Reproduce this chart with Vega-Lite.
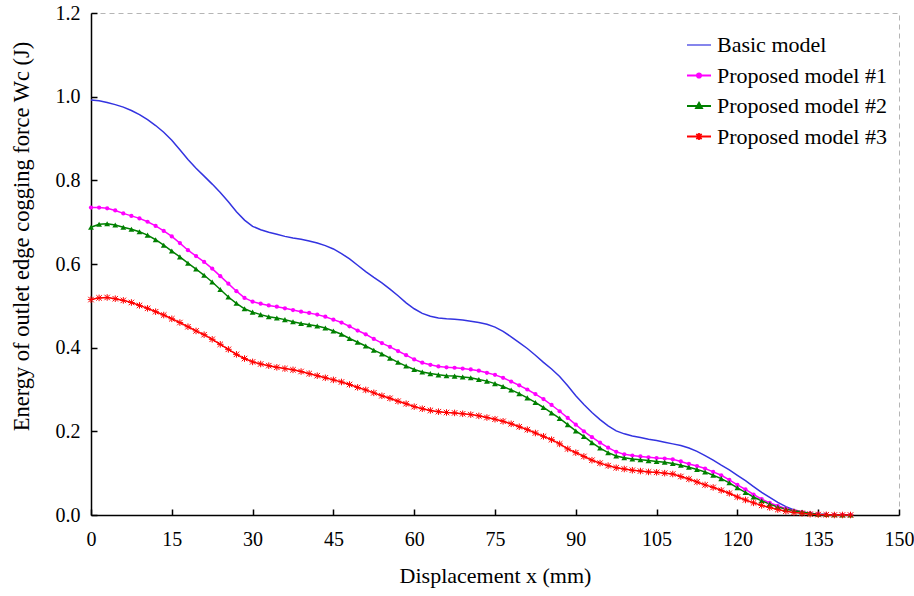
{
  "$schema": "https://vega.github.io/schema/vega-lite/v6.json",
  "width": 808,
  "height": 502,
  "autosize": {"type": "none"},
  "padding": {"left": 91, "top": 13, "right": 15, "bottom": 81},
  "background": "white",
  "config": {
    "font": "Liberation Serif",
    "view": {"stroke": "#b5b5b5", "strokeDash": [5, 4], "strokeWidth": 1},
    "axis": {
      "labelFont": "Liberation Serif", "labelFontSize": 20, "labelColor": "black", "labelFlush": false,
      "titleFont": "Liberation Serif", "titleFontSize": 22, "titleFontWeight": "normal", "titleColor": "black",
      "domainColor": "black", "domainWidth": 1.5, "tickColor": "black", "tickWidth": 1.5, "tickSize": -6, "grid": false
    }
  },
  "data": {"values": [
    {"x": 0, "b": 0.992, "p1": 0.735, "p2": 0.688, "p3": 0.515},
    {"x": 1.5, "b": 0.99, "p1": 0.735, "p2": 0.695, "p3": 0.519},
    {"x": 3, "b": 0.986, "p1": 0.733, "p2": 0.696, "p3": 0.52},
    {"x": 4.5, "b": 0.981, "p1": 0.728, "p2": 0.693, "p3": 0.517},
    {"x": 6, "b": 0.975, "p1": 0.721, "p2": 0.688, "p3": 0.513},
    {"x": 7.5, "b": 0.967, "p1": 0.715, "p2": 0.683, "p3": 0.508},
    {"x": 9, "b": 0.957, "p1": 0.709, "p2": 0.677, "p3": 0.501},
    {"x": 10.5, "b": 0.945, "p1": 0.701, "p2": 0.669, "p3": 0.494},
    {"x": 12, "b": 0.931, "p1": 0.691, "p2": 0.658, "p3": 0.486},
    {"x": 13.5, "b": 0.915, "p1": 0.679, "p2": 0.645, "p3": 0.478},
    {"x": 15, "b": 0.896, "p1": 0.666, "p2": 0.631, "p3": 0.469},
    {"x": 16.5, "b": 0.873, "p1": 0.65, "p2": 0.617, "p3": 0.46},
    {"x": 18, "b": 0.85, "p1": 0.633, "p2": 0.602, "p3": 0.45},
    {"x": 19.5, "b": 0.829, "p1": 0.619, "p2": 0.588, "p3": 0.44},
    {"x": 21, "b": 0.81, "p1": 0.605, "p2": 0.573, "p3": 0.431},
    {"x": 22.5, "b": 0.791, "p1": 0.589, "p2": 0.557, "p3": 0.42},
    {"x": 24, "b": 0.771, "p1": 0.571, "p2": 0.539, "p3": 0.408},
    {"x": 25.5, "b": 0.749, "p1": 0.553, "p2": 0.521, "p3": 0.396},
    {"x": 27, "b": 0.725, "p1": 0.535, "p2": 0.506, "p3": 0.384},
    {"x": 28.5, "b": 0.705, "p1": 0.519, "p2": 0.493, "p3": 0.374},
    {"x": 30, "b": 0.69, "p1": 0.51, "p2": 0.485, "p3": 0.366},
    {"x": 31.5, "b": 0.682, "p1": 0.505, "p2": 0.479, "p3": 0.361},
    {"x": 33, "b": 0.676, "p1": 0.501, "p2": 0.474, "p3": 0.357},
    {"x": 34.5, "b": 0.671, "p1": 0.498, "p2": 0.471, "p3": 0.353},
    {"x": 36, "b": 0.666, "p1": 0.494, "p2": 0.467, "p3": 0.35},
    {"x": 37.5, "b": 0.662, "p1": 0.49, "p2": 0.462, "p3": 0.347},
    {"x": 39, "b": 0.659, "p1": 0.486, "p2": 0.458, "p3": 0.343},
    {"x": 40.5, "b": 0.655, "p1": 0.483, "p2": 0.455, "p3": 0.338},
    {"x": 42, "b": 0.65, "p1": 0.479, "p2": 0.452, "p3": 0.333},
    {"x": 43.5, "b": 0.644, "p1": 0.474, "p2": 0.447, "p3": 0.328},
    {"x": 45, "b": 0.636, "p1": 0.467, "p2": 0.44, "p3": 0.323},
    {"x": 46.5, "b": 0.625, "p1": 0.46, "p2": 0.432, "p3": 0.318},
    {"x": 48, "b": 0.612, "p1": 0.451, "p2": 0.422, "p3": 0.312},
    {"x": 49.5, "b": 0.597, "p1": 0.441, "p2": 0.413, "p3": 0.305},
    {"x": 51, "b": 0.582, "p1": 0.432, "p2": 0.404, "p3": 0.299},
    {"x": 52.5, "b": 0.568, "p1": 0.421, "p2": 0.394, "p3": 0.292},
    {"x": 54, "b": 0.555, "p1": 0.411, "p2": 0.385, "p3": 0.285},
    {"x": 55.5, "b": 0.54, "p1": 0.402, "p2": 0.375, "p3": 0.279},
    {"x": 57, "b": 0.524, "p1": 0.392, "p2": 0.365, "p3": 0.272},
    {"x": 58.5, "b": 0.507, "p1": 0.382, "p2": 0.356, "p3": 0.266},
    {"x": 60, "b": 0.493, "p1": 0.372, "p2": 0.348, "p3": 0.259},
    {"x": 61.5, "b": 0.482, "p1": 0.364, "p2": 0.342, "p3": 0.254},
    {"x": 63, "b": 0.475, "p1": 0.359, "p2": 0.338, "p3": 0.25},
    {"x": 64.5, "b": 0.471, "p1": 0.355, "p2": 0.335, "p3": 0.247},
    {"x": 66, "b": 0.469, "p1": 0.353, "p2": 0.333, "p3": 0.245},
    {"x": 67.5, "b": 0.468, "p1": 0.352, "p2": 0.332, "p3": 0.244},
    {"x": 69, "b": 0.466, "p1": 0.35, "p2": 0.33, "p3": 0.242},
    {"x": 70.5, "b": 0.463, "p1": 0.348, "p2": 0.328, "p3": 0.24},
    {"x": 72, "b": 0.46, "p1": 0.345, "p2": 0.324, "p3": 0.237},
    {"x": 73.5, "b": 0.456, "p1": 0.34, "p2": 0.32, "p3": 0.233},
    {"x": 75, "b": 0.449, "p1": 0.335, "p2": 0.314, "p3": 0.229},
    {"x": 76.5, "b": 0.439, "p1": 0.328, "p2": 0.307, "p3": 0.224},
    {"x": 78, "b": 0.426, "p1": 0.319, "p2": 0.299, "p3": 0.218},
    {"x": 79.5, "b": 0.412, "p1": 0.31, "p2": 0.29, "p3": 0.211},
    {"x": 81, "b": 0.398, "p1": 0.3, "p2": 0.28, "p3": 0.204},
    {"x": 82.5, "b": 0.382, "p1": 0.289, "p2": 0.269, "p3": 0.196},
    {"x": 84, "b": 0.365, "p1": 0.277, "p2": 0.257, "p3": 0.188},
    {"x": 85.5, "b": 0.349, "p1": 0.263, "p2": 0.244, "p3": 0.18},
    {"x": 87, "b": 0.331, "p1": 0.248, "p2": 0.231, "p3": 0.17},
    {"x": 88.5, "b": 0.309, "p1": 0.232, "p2": 0.216, "p3": 0.158},
    {"x": 90, "b": 0.285, "p1": 0.216, "p2": 0.201, "p3": 0.149},
    {"x": 91.5, "b": 0.264, "p1": 0.2, "p2": 0.188, "p3": 0.14},
    {"x": 93, "b": 0.245, "p1": 0.186, "p2": 0.173, "p3": 0.131},
    {"x": 94.5, "b": 0.228, "p1": 0.173, "p2": 0.16, "p3": 0.124},
    {"x": 96, "b": 0.213, "p1": 0.161, "p2": 0.149, "p3": 0.118},
    {"x": 97.5, "b": 0.201, "p1": 0.151, "p2": 0.141, "p3": 0.113},
    {"x": 99, "b": 0.194, "p1": 0.145, "p2": 0.137, "p3": 0.11},
    {"x": 100.5, "b": 0.189, "p1": 0.142, "p2": 0.134, "p3": 0.107},
    {"x": 102, "b": 0.185, "p1": 0.14, "p2": 0.132, "p3": 0.105},
    {"x": 103.5, "b": 0.181, "p1": 0.138, "p2": 0.13, "p3": 0.103},
    {"x": 105, "b": 0.178, "p1": 0.136, "p2": 0.128, "p3": 0.102},
    {"x": 106.5, "b": 0.174, "p1": 0.135, "p2": 0.126, "p3": 0.1},
    {"x": 108, "b": 0.17, "p1": 0.133, "p2": 0.123, "p3": 0.098},
    {"x": 109.5, "b": 0.166, "p1": 0.128, "p2": 0.119, "p3": 0.092},
    {"x": 111, "b": 0.16, "p1": 0.122, "p2": 0.114, "p3": 0.086},
    {"x": 112.5, "b": 0.152, "p1": 0.117, "p2": 0.109, "p3": 0.079},
    {"x": 114, "b": 0.142, "p1": 0.111, "p2": 0.103, "p3": 0.072},
    {"x": 115.5, "b": 0.131, "p1": 0.103, "p2": 0.095, "p3": 0.066},
    {"x": 117, "b": 0.119, "p1": 0.095, "p2": 0.087, "p3": 0.059},
    {"x": 118.5, "b": 0.108, "p1": 0.084, "p2": 0.077, "p3": 0.052},
    {"x": 120, "b": 0.095, "p1": 0.072, "p2": 0.065, "p3": 0.043},
    {"x": 121.5, "b": 0.082, "p1": 0.061, "p2": 0.054, "p3": 0.036},
    {"x": 123, "b": 0.068, "p1": 0.049, "p2": 0.043, "p3": 0.029},
    {"x": 124.5, "b": 0.054, "p1": 0.038, "p2": 0.034, "p3": 0.023},
    {"x": 126, "b": 0.042, "p1": 0.029, "p2": 0.026, "p3": 0.018},
    {"x": 127.5, "b": 0.03, "p1": 0.022, "p2": 0.019, "p3": 0.013},
    {"x": 129, "b": 0.02, "p1": 0.015, "p2": 0.014, "p3": 0.009},
    {"x": 130.5, "b": 0.012, "p1": 0.01, "p2": 0.01, "p3": 0.006},
    {"x": 132, "b": 0.007, "p1": 0.007, "p2": 0.007, "p3": 0.004},
    {"x": 133.5, "b": 0.004, "p1": 0.004, "p2": 0.004, "p3": 0.002},
    {"x": 135, "b": 0.002, "p1": 0.002, "p2": 0.002, "p3": 0.001},
    {"x": 136.5, "b": 0.001, "p1": 0.001, "p2": 0.001, "p3": 0.0005},
    {"x": 138, "b": 0.0005, "p1": 0.0005, "p2": 0.0005, "p3": 0},
    {"x": 139.5, "b": 0, "p1": 0, "p2": 0, "p3": 0},
    {"x": 141, "b": 0, "p1": 0, "p2": 0, "p3": 0}
  ]},
  "encoding": {
    "x": {
      "field": "x", "type": "quantitative",
      "scale": {"domain": [0, 150], "nice": false},
      "axis": {"values": [0, 15, 30, 45, 60, 75, 90, 105, 120, 135, 150], "labelPadding": 20, "titlePadding": 16, "title": "Displacement  x (mm)"}
    }
  },
  "layer": [
    {
      "transform": [{"fold": ["b", "p1", "p2", "p3"], "as": ["series", "W"]}],
      "mark": {"type": "line", "strokeWidth": 1.5},
      "encoding": {
        "y": {
          "field": "W", "type": "quantitative",
          "scale": {"domain": [0, 1.2], "nice": false},
          "axis": {"values": [0, 0.2, 0.4, 0.6, 0.8, 1.0, 1.2], "format": ".1f", "labelPadding": 17, "titlePadding": 22, "titleY": 223, "titleFontSize": 22.5},
          "title": "Energy of outlet edge cogging force Wc (J)"
        },
        "color": {
          "field": "series", "type": "nominal",
          "scale": {"domain": ["b", "p1", "p2", "p3"], "range": ["#3333e0", "#ff00ff", "#008000", "#ff0000"]},
          "legend": {
            "title": null, "orient": "none", "legendX": 597, "legendY": 21,
            "padding": 0, "rowPadding": 8.5, "symbolSize": 576, "labelOffset": 7,
            "labelFont": "Liberation Serif", "labelFontSize": 22, "labelColor": "black", "labelLimit": 300,
            "labelExpr": "datum.label === 'b' ? 'Basic model' : datum.label === 'p1' ? 'Proposed model #1' : datum.label === 'p2' ? 'Proposed model #2' : 'Proposed model #3'",
            "encode": {
              "symbols": {
                "update": {
                  "shape": {"signal": "datum.value === 'b' ? 'M-1,0L1,0' : datum.value === 'p1' ? 'M-1,0L1,0M-0.18,0A0.18,0.18 0 1 1 0.18,0A0.18,0.18 0 1 1 -0.18,0Z' : datum.value === 'p2' ? 'M-1,0L1,0M0,-0.27L0.25,0.17L-0.25,0.17Z' : 'M-1,0L1,0M-0.22,-0.22L0.22,0.22M-0.22,0.22L0.22,-0.22M0,-0.3L0,0.3'"},
                  "fill": {"signal": "datum.value === 'p1' ? '#ff00ff' : datum.value === 'p2' ? '#008000' : 'transparent'"},
                  "fillOpacity": {"value": 1},
                  "stroke": {"signal": "datum.value === 'b' ? '#3333e0' : datum.value === 'p1' ? '#ff00ff' : datum.value === 'p2' ? '#008000' : '#ff0000'"},
                  "strokeWidth": {"signal": "datum.value === 'b' ? 1.2 : 1.8"},
                  "opacity": {"value": 1}
                }
              }
            }
          }
        },
        "strokeWidth": {"condition": {"test": "datum.series === 'b'", "value": 1}, "value": 1.5}
      }
    },
    {
      "mark": {"type": "point", "shape": "circle", "filled": true, "size": 18, "color": "#ff00ff", "opacity": 1},
      "encoding": {"y": {"field": "p1", "type": "quantitative", "title": "Energy of outlet edge cogging force Wc (J)"}}
    },
    {
      "mark": {"type": "point", "shape": "triangle-up", "filled": true, "size": 34, "color": "#008000", "opacity": 1},
      "encoding": {"y": {"field": "p2", "type": "quantitative", "title": "Energy of outlet edge cogging force Wc (J)"}}
    },
    {
      "mark": {"type": "point", "shape": "M-1,-1L1,1M-1,1L1,-1M0,-1.2L0,1.2M-1.2,0L1.2,0", "filled": false, "size": 30, "color": "#ff0000", "strokeWidth": 1, "opacity": 1},
      "encoding": {"y": {"field": "p3", "type": "quantitative", "title": "Energy of outlet edge cogging force Wc (J)"}}
    }
  ]
}
